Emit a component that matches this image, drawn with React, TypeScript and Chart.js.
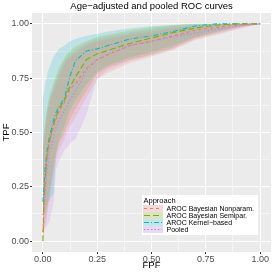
import React, { useEffect, useRef } from 'react';
import { Chart, registerables } from 'chart.js';

Chart.register(...registerables);

const TITLE = 'Age\u2212adjusted and pooled ROC curves';
const X_TITLE = 'FPF';
const Y_TITLE = 'TPF';
const LEGEND_TITLE = 'Approach';
const SERIES_LABELS = ['AROC Bayesian Nonparam.', 'AROC Bayesian Semipar.', 'AROC Kernel\u2212based', 'Pooled'];
const COLORS = ['#F8766D', '#7CAE00', '#00BFC4', '#C77CFF'];
const FILLS = ['rgba(248,118,109,0.2)', 'rgba(124,174,0,0.2)', 'rgba(0,191,196,0.2)', 'rgba(199,124,255,0.2)'];
const DASHES = [[3, 3], [6, 3], [5, 2, 1, 2], [1.5, 2]];
const MAJOR_TICKS = [0, 0.25, 0.5, 0.75, 1];
const ALL_TICKS = [0, 0.125, 0.25, 0.375, 0.5, 0.625, 0.75, 0.875, 1];

const FPF = [0, 0.005, 0.01, 0.02, 0.03, 0.05, 0.06, 0.075, 0.1, 0.11, 0.125, 0.15, 0.2, 0.25, 0.3, 0.4, 0.5, 0.6, 0.7, 0.8, 0.9, 1];

const NONPARAM = [0.04, 0.18, 0.27, 0.39, 0.45, 0.53, 0.56, 0.6, 0.64, 0.67, 0.7, 0.725, 0.795, 0.835, 0.858, 0.9, 0.92, 0.945, 0.97, 0.985, 0.995, 1];
const NONPARAM_LO = [0, 0.04, 0.07, 0.12, 0.19, 0.32, 0.37, 0.42, 0.47, 0.5, 0.53, 0.57, 0.66, 0.745, 0.775, 0.82, 0.85, 0.88, 0.925, 0.95, 0.975, 1];
const NONPARAM_HI = [0.4, 0.46, 0.51, 0.58, 0.63, 0.69, 0.72, 0.76, 0.815, 0.83, 0.845, 0.865, 0.9, 0.92, 0.93, 0.95, 0.965, 0.98, 0.99, 0.995, 1, 1];

const SEMIPAR = [0, 0.18, 0.28, 0.4, 0.46, 0.54, 0.57, 0.61, 0.65, 0.68, 0.71, 0.755, 0.835, 0.862, 0.878, 0.91, 0.935, 0.96, 0.98, 0.995, 1, 1];
const SEMIPAR_LO = [0, 0.05, 0.09, 0.15, 0.22, 0.35, 0.4, 0.45, 0.5, 0.53, 0.56, 0.61, 0.69, 0.77, 0.8, 0.835, 0.86, 0.89, 0.935, 0.96, 0.985, 1];
const SEMIPAR_HI = [0.44, 0.5, 0.55, 0.62, 0.67, 0.73, 0.76, 0.8, 0.845, 0.86, 0.875, 0.895, 0.92, 0.94, 0.95, 0.97, 0.985, 0.995, 1, 1, 1, 1];

const KERNEL = [0.18, 0.25, 0.33, 0.42, 0.48, 0.56, 0.59, 0.62, 0.66, 0.7, 0.76, 0.83, 0.875, 0.885, 0.9, 0.93, 0.945, 0.965, 0.99, 1, 1, 1];
const KERNEL_LO = [0.1, 0.12, 0.14, 0.17, 0.19, 0.22, 0.4, 0.47, 0.53, 0.57, 0.6, 0.65, 0.72, 0.78, 0.81, 0.845, 0.87, 0.9, 0.94, 0.965, 0.985, 1];
const KERNEL_HI = [0.65, 0.68, 0.72, 0.77, 0.8, 0.85, 0.865, 0.885, 0.9, 0.91, 0.92, 0.93, 0.945, 0.955, 0.965, 0.98, 0.99, 0.995, 1, 1, 1, 1];

const POOLED = [0.12, 0.16, 0.2, 0.33, 0.4, 0.48, 0.52, 0.56, 0.6, 0.62, 0.65, 0.69, 0.785, 0.835, 0.862, 0.9, 0.92, 0.94, 0.957, 0.975, 0.99, 1];
const POOLED_LO = [0.05, 0.055, 0.06, 0.07, 0.09, 0.18, 0.33, 0.37, 0.42, 0.43, 0.45, 0.47, 0.58, 0.75, 0.79, 0.83, 0.855, 0.885, 0.93, 0.955, 0.98, 1];
const POOLED_HI = [0.42, 0.48, 0.53, 0.6, 0.65, 0.71, 0.74, 0.78, 0.83, 0.845, 0.86, 0.88, 0.91, 0.93, 0.94, 0.96, 0.975, 0.99, 0.995, 1, 1, 1];

const MEANS = [NONPARAM, SEMIPAR, KERNEL, POOLED];
const LOWERS = [NONPARAM_LO, SEMIPAR_LO, KERNEL_LO, POOLED_LO];
const UPPERS = [NONPARAM_HI, SEMIPAR_HI, KERNEL_HI, POOLED_HI];

const FONT = '"Liberation Sans", Arial, sans-serif';

const pts = (ys: number[]) => FPF.map((x, i) => ({ x, y: ys[i] }));

const panelBg = {
  id: 'panelBg',
  beforeDraw(chart: any) {
    const { ctx, chartArea: a } = chart;
    ctx.save();
    ctx.fillStyle = '#EBEBEB';
    ctx.fillRect(a.left, a.top, a.right - a.left, a.bottom - a.top);
    ctx.restore();
  },
};

const extras = {
  id: 'extras',
  afterDraw(chart: any) {
    const { ctx, chartArea: a } = chart;
    ctx.save();
    ctx.fillStyle = '#000';
    ctx.font = `9.5px ${FONT}`;
    ctx.textAlign = 'center';
    ctx.textBaseline = 'middle';
    ctx.fillText(TITLE, (a.left + a.right) / 2, 6.5);
    const bx = 142, by = 195, bw = 116, bh = 40;
    ctx.fillStyle = '#FFFFFF';
    ctx.fillRect(bx, by, bw, bh);
    ctx.fillStyle = '#000';
    ctx.textAlign = 'left';
    ctx.font = `7.5px ${FONT}`;
    ctx.fillText(LEGEND_TITLE, 143.5, 200.5);
    ctx.font = `7px ${FONT}`;
    for (let i = 0; i < SERIES_LABELS.length; i++) {
      const cy = 208.5 + i * 7;
      const kx = 143, kw = 20, kh = 7;
      ctx.fillStyle = '#F2F2F2';
      ctx.fillRect(kx, cy - kh / 2, kw, kh);
      ctx.fillStyle = FILLS[i];
      ctx.fillRect(kx, cy - kh / 2, kw, kh);
      ctx.strokeStyle = COLORS[i];
      ctx.lineWidth = 1.2;
      ctx.setLineDash(DASHES[i]);
      ctx.beginPath();
      ctx.moveTo(kx + 1, cy);
      ctx.lineTo(kx + kw - 1, cy);
      ctx.stroke();
      ctx.setLineDash([]);
      ctx.fillStyle = '#000';
      ctx.fillText(SERIES_LABELS[i], 166.5, cy + 0.5);
    }
    ctx.restore();
  },
};

export default function App() {
  const ref = useRef<HTMLCanvasElement>(null);
  useEffect(() => {
    document.body.style.margin = '0';
    const canvas = ref.current!;
    const datasets: any[] = [];
    MEANS.forEach((m, i) => {
      datasets.push({
        label: SERIES_LABELS[i],
        data: pts(m),
        borderColor: COLORS[i],
        borderWidth: 1.1,
        borderDash: DASHES[i],
        pointRadius: 0,
        fill: false,
        tension: 0,
      });
    });
    MEANS.forEach((_, i) => {
      const upperIndex = datasets.length;
      datasets.push({
        label: SERIES_LABELS[i] + ' upper',
        data: pts(UPPERS[i]),
        borderWidth: 0,
        borderColor: 'rgba(0,0,0,0)',
        backgroundColor: FILLS[i],
        pointRadius: 0,
        fill: upperIndex + 1,
        tension: 0,
      });
      datasets.push({
        label: SERIES_LABELS[i] + ' lower',
        data: pts(LOWERS[i]),
        borderWidth: 0,
        borderColor: 'rgba(0,0,0,0)',
        pointRadius: 0,
        fill: false,
        tension: 0,
      });
    });

    const axis = (isX: boolean) => ({
      type: 'linear',
      min: -0.05,
      max: 1.05,
      afterBuildTicks(scale: any) {
        scale.ticks = ALL_TICKS.map((v) => ({ value: v }));
      },
      afterFit(scale: any) {
        if (isX) scale.height = 21;
        else scale.width = 32;
      },
      border: { display: false },
      grid: {
        color: '#FFFFFF',
        lineWidth: (c: any) => (MAJOR_TICKS.includes(c.tick?.value) ? 1 : 0.5),
        tickColor: (c: any) => (MAJOR_TICKS.includes(c.tick?.value) ? '#333333' : 'rgba(0,0,0,0)'),
        tickLength: 2,
        drawTicks: true,
      },
      ticks: {
        autoSkip: false,
        maxRotation: 0,
        padding: 1,
        color: '#4D4D4D',
        font: { family: FONT, size: 9, lineHeight: 1 },
        callback: (v: number) => (MAJOR_TICKS.includes(v) ? v.toFixed(2) : ''),
      },
      title: {
        display: true,
        text: isX ? X_TITLE : Y_TITLE,
        color: '#000',
        font: { family: FONT, size: 9.5, lineHeight: 1 },
        padding: isX ? { top: 0, bottom: 2.5 } : { top: 2, bottom: 0 },
      },
    });

    const chart = new Chart(canvas, {
      type: 'line',
      data: { datasets },
      options: {
        responsive: false,
        animation: false,
        devicePixelRatio: 1,
        layout: { padding: { top: 13, right: 2, left: 0, bottom: 0 } },
        plugins: { legend: { display: false }, tooltip: { enabled: false }, title: { display: false } },
        scales: { x: axis(true) as any, y: axis(false) as any },
      },
      plugins: [panelBg, extras],
    });
    return () => chart.destroy();
  }, []);
  return (
    <div style={{ width: 273, height: 273 }}>
      <canvas ref={ref} width={273} height={273} />
    </div>
  );
}
